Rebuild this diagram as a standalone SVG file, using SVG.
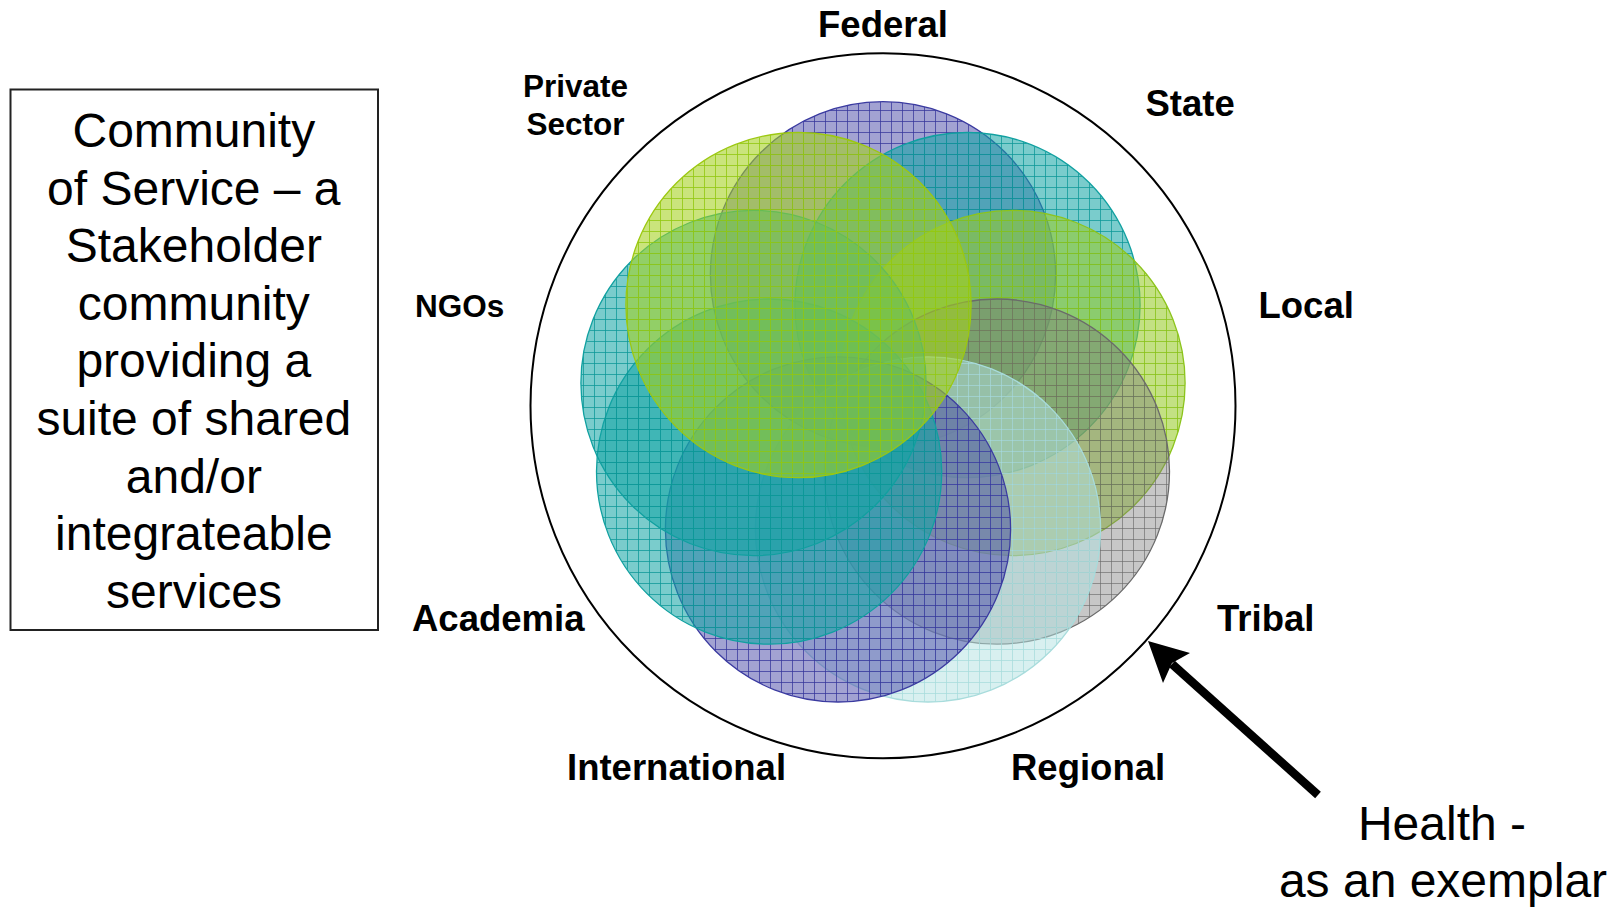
<svg xmlns="http://www.w3.org/2000/svg" width="1611" height="908" viewBox="0 0 1611 908">
<style>
.lbl{font-family:"Liberation Sans",Arial,sans-serif;font-weight:bold;font-size:36.5px;fill:#000}
.lbls{font-family:"Liberation Sans",Arial,sans-serif;font-weight:bold;font-size:31.5px;fill:#000}
.big{font-family:"Liberation Sans",Arial,sans-serif;font-size:48px;fill:#000}
.ring{stroke-width:1.3}
</style>
<defs>
<pattern id="pPurple" patternUnits="userSpaceOnUse" width="11" height="11">
<rect width="11" height="11" fill="#4646a6" fill-opacity="0.5"/>
<path d="M0 0.5H11M0.5 0V11" stroke="#34349a" stroke-opacity="0.75" stroke-width="1"/>
</pattern>
<pattern id="pTeal" patternUnits="userSpaceOnUse" width="11" height="11">
<rect width="11" height="11" fill="#12a4a4" fill-opacity="0.56"/>
<path d="M0 0.5H11M0.5 0V11" stroke="#0a9696" stroke-opacity="0.75" stroke-width="1"/>
</pattern>
<pattern id="pLime" patternUnits="userSpaceOnUse" width="11" height="11">
<rect width="11" height="11" fill="#98cc2a" fill-opacity="0.58"/>
<path d="M0 0.5H11M0.5 0V11" stroke="#88c218" stroke-opacity="0.8" stroke-width="1"/>
</pattern>
<pattern id="pLime2" patternUnits="userSpaceOnUse" width="11" height="11">
<rect width="11" height="11" fill="#a4d01e" fill-opacity="0.58"/>
<path d="M0 0.5H11M0.5 0V11" stroke="#92c810" stroke-opacity="0.8" stroke-width="1"/>
</pattern>
<pattern id="pGray" patternUnits="userSpaceOnUse" width="11" height="11">
<rect width="11" height="11" fill="#7a7a7a" fill-opacity="0.42"/>
<path d="M0 0.5H11M0.5 0V11" stroke="#6a6a6a" stroke-opacity="0.65" stroke-width="1"/>
</pattern>
<pattern id="pCyan" patternUnits="userSpaceOnUse" width="11" height="11">
<rect width="11" height="11" fill="#b2e2e2" fill-opacity="0.5"/>
<path d="M0 0.5H11M0.5 0V11" stroke="#a6dcdc" stroke-opacity="0.75" stroke-width="1"/>
</pattern>
</defs>
<rect width="1611" height="908" fill="#fff"/>

<g id="legend-box">
<rect x="10.5" y="89.5" width="367.5" height="540.5" fill="none" stroke="#222" stroke-width="2"/>
<text class="big" text-anchor="middle">
<tspan x="200.5" y="147">Community</tspan>
<tspan x="200.5" y="204.6">of Service – a</tspan>
<tspan x="200.5" y="262.2">Stakeholder</tspan>
<tspan x="200.5" y="319.8">community</tspan>
<tspan x="200.5" y="377.4">providing a</tspan>
<tspan x="200.5" y="435">suite of shared</tspan>
<tspan x="200.5" y="492.6">and/or</tspan>
<tspan x="200.5" y="550.2">integrateable</tspan>
<tspan x="194" y="607.8">services</tspan>
</text>
</g>

<g id="community-ring">
<circle cx="883" cy="405.8" r="352.5" fill="none" stroke="#000" stroke-width="2"/>
</g>

<g id="federal">
<circle class="ring" cx="883" cy="274.3" r="172.6" fill="url(#pPurple)" stroke="#3a3aa0"/>
<text class="lbl" x="883" y="37" text-anchor="middle">Federal</text>
</g>
<g id="state">
<circle class="ring" cx="967.5" cy="305.1" r="172.6" fill="url(#pTeal)" stroke="#10a0a0"/>
<text class="lbl" x="1145.5" y="116">State</text>
</g>
<g id="local">
<circle class="ring" cx="1012.5" cy="383" r="172.6" fill="url(#pLime)" stroke="#8cc41c"/>
<text class="lbl" x="1258.5" y="317.5">Local</text>
</g>
<g id="tribal">
<circle class="ring" cx="996.9" cy="471.6" r="172.6" fill="url(#pGray)" stroke="#6a6a6a"/>
<text class="lbl" x="1217" y="631">Tribal</text>
</g>
<g id="regional">
<circle class="ring" cx="928" cy="529.4" r="172.6" fill="url(#pCyan)" stroke="#a8dcdc"/>
<text class="lbl" x="1011" y="780">Regional</text>
</g>
<g id="international">
<circle class="ring" cx="838" cy="529.4" r="172.6" fill="url(#pPurple)" stroke="#3a3aa0"/>
<text class="lbl" x="567" y="780">International</text>
</g>
<g id="academia">
<circle class="ring" cx="769.1" cy="471.6" r="172.6" fill="url(#pTeal)" stroke="#10a0a0"/>
<text class="lbl" x="412" y="631">Academia</text>
</g>
<g id="ngos">
<circle class="ring" cx="753.5" cy="383" r="172.6" fill="url(#pTeal)" stroke="#10a0a0"/>
<text class="lbls" x="415" y="316.5">NGOs</text>
</g>
<g id="private-sector">
<circle class="ring" cx="798.5" cy="305.1" r="172.6" fill="url(#pLime2)" stroke="#9cc810"/>
<text class="lbls" text-anchor="middle"><tspan x="575.5" y="96.5">Private</tspan><tspan x="575.5" y="134.5">Sector</tspan></text>
</g>

<g id="health-note">
<text class="big" text-anchor="middle"><tspan x="1442" y="840">Health -</tspan><tspan x="1443" y="897">as an exemplar</tspan></text>
</g>

<g id="connectors">
<line x1="1318" y1="795" x2="1172" y2="664" stroke="#000" stroke-width="8.5"/>
<polygon points="1148,641 1190,653 1172,663 1163,683" fill="#000"/>
</g>
</svg>
